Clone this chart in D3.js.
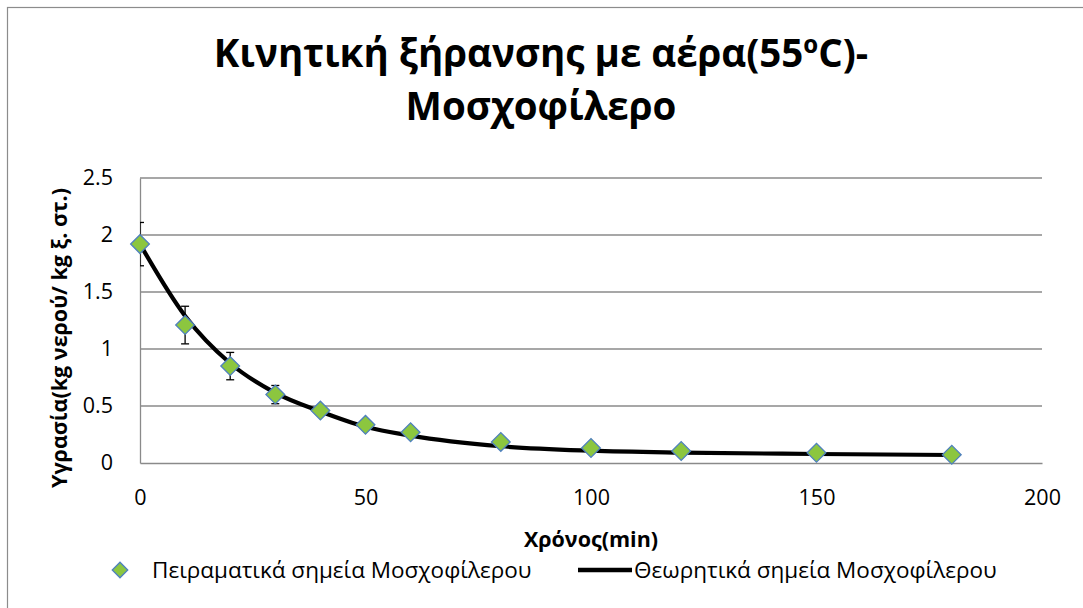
<!DOCTYPE html>
<html>
<head>
<meta charset="utf-8">
<script src="https://cdn.jsdelivr.net/npm/d3@7"></script>
<style>
    body { margin: 0; background: #fff; }
    text { font-family: "Open Sans", "Noto Sans", sans-serif; fill: #000; }
</style>
</head>
<body>
<div id="chart"></div>
<script>
// measured times (min)
let times = [0, 10, 20, 30, 40, 50, 60, 80, 100, 120, 150, 180];
// experimental moisture (kg water / kg dry solid)
let measured = [1.92, 1.21, 0.85, 0.60, 0.46, 0.335, 0.27, 0.185, 0.132, 0.105, 0.09, 0.072];
// error bar half-widths
let errors = [0.19, 0.165, 0.12, 0.08, 0, 0, 0, 0, 0, 0, 0, 0];
// model (theoretical) values
let model = [1.92, 1.29, 0.875, 0.615, 0.452, 0.318, 0.24, 0.147, 0.108, 0.091, 0.079, 0.07];

let xTicks = [0, 50, 100, 150, 200];
let yTicks = [0, 0.5, 1, 1.5, 2, 2.5];

let titleLines = ["Κινητική ξήρανσης με αέρα(55ºC)-", "Μοσχοφίλερο"];
let xTitle = "Χρόνος(min)";
let yTitle = "Υγρασία(kg νερού/ kg ξ. στ.)";
let seriesNames = ["Πειραματικά σημεία Μοσχοφίλερου", "Θεωρητικά σημεία Μοσχοφίλερου"];

let width = 1083;
let height = 608;
let plot = {left: 140, right: 1042, top: 178, bottom: 463};
let fs = 21.5;

let svg = d3.select("#chart").append("svg")
    .attr("width", width)
    .attr("height", height);

// outer chart border (right/bottom edges fall outside the view)
svg.append("rect")
    .attr("x", 7.5).attr("y", 7.5)
    .attr("width", width).attr("height", height)
    .attr("fill", "none")
    .attr("stroke", "#8c8c8c")
    .attr("stroke-width", 1.2);

let x = d3.scaleLinear().domain([0, 200]).range([plot.left, plot.right]);
let y = d3.scaleLinear().domain([0, 2.5]).range([plot.bottom, plot.top]);

// title, one text per line
svg.append("g")
    .selectAll("text")
    .data(titleLines)
    .enter()
    .append("text")
    .attr("text-anchor", "middle")
    .attr("font-weight", "bold")
    .attr("font-size", 38.5)
    .attr("x", 541)
    .attr("y", (d, i) => 67 + i * 53)
    .text(d => d);

// gridlines
svg.append("g")
    .selectAll("line")
    .data(yTicks.filter(d => d > 0))
    .enter()
    .append("line")
    .attr("x1", plot.left).attr("x2", plot.right)
    .attr("y1", d => y(d)).attr("y2", d => y(d))
    .attr("stroke", "#8a8a8a")
    .attr("stroke-width", 1.3);

// y axis
let yAxis = svg.append("g")
    .attr("transform", `translate(${plot.left},0)`)
    .call(d3.axisLeft(y).tickValues(yTicks).tickSize(0).tickPadding(27).tickFormat(d3.format("")));
yAxis.select(".domain").attr("stroke", "#8a8a8a").attr("stroke-width", 1.3);
yAxis.selectAll("text").attr("font-size", fs).attr("font-family", null);

// x axis
let xAxis = svg.append("g")
    .attr("transform", `translate(0,${plot.bottom})`)
    .call(d3.axisBottom(x).tickValues(xTicks).tickSize(0).tickPadding(27));
xAxis.select(".domain").attr("stroke", "#8a8a8a").attr("stroke-width", 1.3);
xAxis.selectAll("text").attr("font-size", fs).attr("font-family", null);

// axis titles
svg.append("text")
    .attr("x", (plot.left + plot.right) / 2)
    .attr("y", 547)
    .attr("text-anchor", "middle")
    .attr("font-weight", "bold")
    .attr("font-size", fs)
    .text(xTitle);

svg.append("text")
    .attr("transform", "translate(67,338) rotate(-90)")
    .attr("text-anchor", "middle")
    .attr("font-weight", "bold")
    .attr("font-size", fs)
    .text(yTitle);

let pts = times.map((t, i) => ({t: t, m: measured[i], e: errors[i], th: model[i]}));

svg.append("clipPath").attr("id", "clip")
    .append("rect")
    .attr("x", plot.left).attr("y", 0)
    .attr("width", plot.right - plot.left).attr("height", plot.bottom);

// error bars
let eb = svg.append("g")
    .attr("clip-path", "url(#clip)")
    .attr("stroke", "#000")
    .attr("stroke-width", 1.3)
    .selectAll("g")
    .data(pts.filter(d => d.e > 0))
    .enter()
    .append("g");
eb.append("line")
    .attr("x1", d => x(d.t)).attr("x2", d => x(d.t))
    .attr("y1", d => y(d.m + d.e)).attr("y2", d => y(d.m - d.e));
eb.append("line")
    .attr("x1", d => x(d.t) - 4).attr("x2", d => x(d.t) + 4)
    .attr("y1", d => y(d.m + d.e)).attr("y2", d => y(d.m + d.e));
eb.append("line")
    .attr("x1", d => x(d.t) - 4).attr("x2", d => x(d.t) + 4)
    .attr("y1", d => y(d.m - d.e)).attr("y2", d => y(d.m - d.e));

// model curve
let line = d3.line()
    .x(d => x(d.t))
    .y(d => y(d.th))
    .curve(d3.curveMonotoneX);

svg.append("path")
    .datum(pts)
    .attr("d", line)
    .attr("fill", "none")
    .attr("stroke", "#000")
    .attr("stroke-width", 4.2);

// diamond markers
let diamond = d3.symbol().type(d3.symbolSquare).size(175);

svg.append("g")
    .selectAll("path")
    .data(pts)
    .enter()
    .append("path")
    .attr("d", diamond)
    .attr("transform", d => `translate(${x(d.t)},${y(d.m)}) rotate(45)`)
    .attr("fill", "#8cc63f")
    .attr("stroke", "#4f81bd")
    .attr("stroke-width", 1.3);

// legend
let legendY = 570;
let legendFs = 22.5;
svg.append("path")
    .attr("d", d3.symbol().type(d3.symbolSquare).size(120))
    .attr("transform", `translate(120,${legendY}) rotate(45)`)
    .attr("fill", "#8cc63f")
    .attr("stroke", "#4f81bd")
    .attr("stroke-width", 1.3);
svg.append("text")
    .attr("x", 152).attr("y", legendY)
    .attr("dy", "0.35em")
    .attr("font-size", legendFs)
    .text(seriesNames[0]);

svg.append("line")
    .attr("x1", 578).attr("x2", 632)
    .attr("y1", legendY).attr("y2", legendY)
    .attr("stroke", "#000")
    .attr("stroke-width", 4.5);
svg.append("text")
    .attr("x", 634).attr("y", legendY)
    .attr("dy", "0.35em")
    .attr("font-size", legendFs)
    .text(seriesNames[1]);
</script>
</body>
</html>
